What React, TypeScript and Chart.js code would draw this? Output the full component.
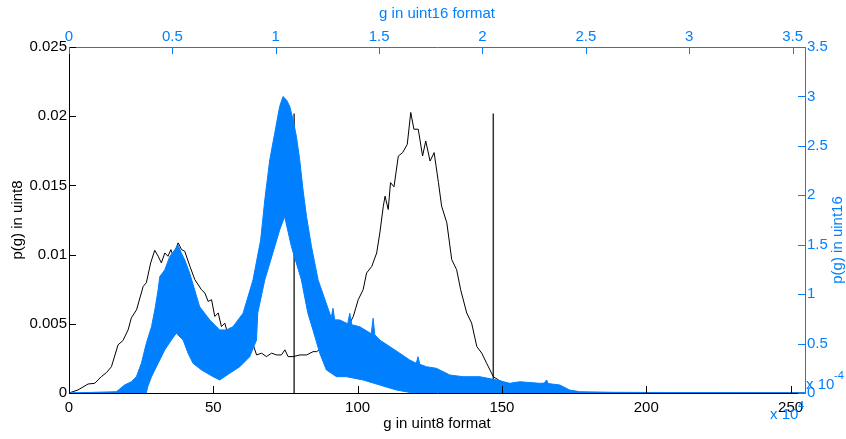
import React, { useEffect, useRef } from "react";
import { Chart, registerables } from "chart.js";

Chart.register(...registerables);

// uint8 histogram (black), bottom/left axes
const uint8G = [0, 3.1, 6.6, 8.9, 11.2, 13.0, 14.7, 17.0, 18.7, 20.5, 21.6, 23.4, 25.7, 26.8, 28.3, 29.7, 30.9, 32.0, 33.2, 34.3, 35.3, 36.1, 37.8, 39.0, 40.1, 41.9, 43.6, 45.9, 47.1, 48.2, 49.4, 50.5, 51.7, 52.8, 54.0, 54.6, 59.2, 63.8, 65.0, 66.7, 68.4, 70.2, 71.9, 73.6, 74.8, 75.9, 77.7, 80.0, 82.3, 84.6, 85.8, 91.1, 96.7, 98.5, 100.2, 101.9, 103.1, 104.9, 106.6, 107.7, 108.9, 109.5, 110.6, 111.4, 112.6, 114.1, 115.6, 117.2, 118.4, 119.5, 121.0, 122.5, 123.6, 125.1, 126.5, 128.0, 129.1, 130.9, 132.6, 134.3, 135.7, 137.8, 139.5, 141.3, 143.0, 144.7, 147.0, 148.8, 150.5, 152.8, 156.3, 163, 173.6, 184, 255];
const uint8P = [0, 0.00022, 0.00065, 0.0007, 0.00118, 0.00148, 0.0019, 0.00348, 0.00379, 0.00457, 0.00543, 0.00601, 0.0077, 0.00797, 0.0094, 0.01031, 0.00988, 0.0094, 0.01012, 0.00988, 0.01036, 0.00988, 0.01085, 0.01036, 0.01024, 0.00915, 0.00819, 0.00746, 0.00722, 0.00662, 0.00674, 0.00553, 0.00578, 0.0048, 0.00505, 0.00457, 0.00384, 0.00348, 0.00275, 0.00288, 0.00263, 0.00288, 0.00275, 0.00275, 0.00312, 0.00263, 0.00263, 0.00275, 0.00275, 0.00299, 0.00299, 0.0038, 0.0048, 0.00553, 0.00674, 0.00746, 0.00867, 0.00915, 0.01012, 0.01157, 0.0135, 0.01422, 0.01326, 0.0152, 0.0149, 0.01712, 0.01737, 0.01797, 0.02027, 0.01906, 0.01906, 0.01712, 0.01821, 0.01676, 0.01737, 0.0152, 0.0135, 0.0123, 0.00964, 0.00891, 0.00746, 0.00578, 0.00505, 0.00335, 0.00288, 0.00215, 0.00118, 0.00094, 0.00075, 0.00036, 0.00022, 0.0001, 0.00005, 0.00001, 0];

// threshold markers (black vertical lines)
const thresholds = [78, 147];
const thresholdTop = 0.0202;

// uint16 histogram (blue), drawn as the band between its upper and lower envelopes (top/right axes, x in 1e4, y in 1e-4)
const uint16UpperT = [0, 0.229, 0.269, 0.302, 0.326, 0.350, 0.374, 0.399, 0.415, 0.431, 0.439, 0.463, 0.487, 0.511, 0.527, 0.544, 0.560, 0.584, 0.608, 0.632, 0.681, 0.729, 0.761, 0.793, 0.842, 0.890, 0.927, 0.947, 0.971, 0.995, 1.019, 1.035, 1.052, 1.068, 1.084, 1.100, 1.116, 1.132, 1.149, 1.173, 1.205, 1.261, 1.268, 1.277, 1.285, 1.310, 1.348, 1.358, 1.368, 1.406, 1.462, 1.471, 1.479, 1.503, 1.552, 1.600, 1.648, 1.680, 1.688, 1.697, 1.729, 1.777, 1.842, 1.906, 1.987, 2.068, 2.132, 2.180, 2.277, 2.299, 2.310, 2.318, 2.374, 2.422, 2.471, 2.630, 3.56];
const uint16UpperP = [0, 0.013, 0.081, 0.114, 0.165, 0.30, 0.503, 0.671, 0.84, 1.042, 1.177, 1.245, 1.379, 1.447, 1.498, 1.414, 1.346, 1.211, 1.042, 0.873, 0.739, 0.638, 0.638, 0.671, 0.807, 1.144, 1.548, 1.953, 2.358, 2.628, 2.898, 2.999, 2.965, 2.898, 2.763, 2.594, 2.358, 2.054, 1.784, 1.48, 1.144, 0.807, 0.76, 0.857, 0.74, 0.739, 0.70, 0.807, 0.69, 0.671, 0.60, 0.756, 0.59, 0.536, 0.469, 0.402, 0.334, 0.30, 0.367, 0.29, 0.266, 0.25, 0.182, 0.165, 0.165, 0.132, 0.098, 0.114, 0.098, 0.10, 0.132, 0.095, 0.081, 0.030, 0.013, 0.007, 0];
const uint16LowerT = [0, 0.374, 0.381, 0.399, 0.431, 0.463, 0.495, 0.520, 0.527, 0.552, 0.576, 0.600, 0.641, 0.697, 0.729, 0.777, 0.826, 0.874, 0.907, 0.913, 0.947, 0.995, 1.019, 1.043, 1.076, 1.124, 1.155, 1.180, 1.213, 1.245, 1.294, 1.342, 1.422, 1.503, 1.584, 1.664, 3.56];
const uint16LowerP = [0, 0, 0.064, 0.165, 0.30, 0.435, 0.536, 0.607, 0.587, 0.536, 0.402, 0.30, 0.233, 0.165, 0.132, 0.199, 0.266, 0.367, 0.536, 0.81, 1.144, 1.48, 1.65, 1.784, 1.48, 1.144, 0.81, 0.638, 0.402, 0.233, 0.165, 0.165, 0.132, 0.081, 0.03, 0, 0];

// axes
const x8Ticks = [0, 50, 100, 150, 200, 250];
const x8Labels = ["0", "50", "100", "150", "200", "250"];
const y8Ticks = [0, 0.005, 0.01, 0.015, 0.02, 0.025];
const y8Labels = ["0", "0.005", "0.01", "0.015", "0.02", "0.025"];
const x16Ticks = [0, 0.5, 1, 1.5, 2, 2.5, 3, 3.5];
const x16Labels = ["0", "0.5", "1", "1.5", "2", "2.5", "3", "3.5"];
const y16Ticks = [0, 0.5, 1, 1.5, 2, 2.5, 3, 3.5];
const y16Labels = ["0", "0.5", "1", "1.5", "2", "2.5", "3", "3.5"];

const BLUE = "#0080FF";
const FONT = '"Liberation Sans", Arial, Helvetica, sans-serif';

const decorPlugin = {
  id: "decor",
  afterDraw(chart: any) {
    const ctx = chart.ctx as CanvasRenderingContext2D;
    const a = chart.chartArea;
    const s = chart.scales;
    const TL = 7;
    ctx.save();
    ctx.lineWidth = 1;
    // inward ticks
    ctx.strokeStyle = "#000";
    ctx.beginPath();
    for (const v of x8Ticks) {
      const px = Math.round(s.x.getPixelForValue(v)) + 0.5;
      ctx.moveTo(px, a.bottom);
      ctx.lineTo(px, a.bottom - TL);
    }
    for (const v of y8Ticks) {
      const py = Math.round(s.y.getPixelForValue(v)) + 0.5;
      ctx.moveTo(a.left, py);
      ctx.lineTo(a.left + TL, py);
    }
    ctx.stroke();
    ctx.strokeStyle = BLUE;
    ctx.beginPath();
    for (const v of x16Ticks) {
      const px = Math.round(s.x2.getPixelForValue(v)) + 0.5;
      ctx.moveTo(px, a.top);
      ctx.lineTo(px, a.top + TL);
    }
    for (const v of y16Ticks) {
      const py = Math.round(s.y2.getPixelForValue(v)) + 0.5;
      ctx.moveTo(a.right, py);
      ctx.lineTo(a.right - TL, py);
    }
    ctx.stroke();

    // axis titles
    ctx.font = `15px ${FONT}`;
    ctx.textAlign = "center";
    ctx.textBaseline = "middle";
    const cx = (a.left + a.right) / 2;
    const cy = (a.top + a.bottom) / 2;
    ctx.fillStyle = "#000";
    ctx.fillText("g in uint8 format", cx, 424);
    ctx.save();
    ctx.translate(18, cy);
    ctx.rotate(-Math.PI / 2);
    ctx.fillText("p(g) in uint8", 0, 0);
    ctx.restore();
    ctx.fillStyle = BLUE;
    ctx.fillText("g in uint16 format", cx, 14);
    ctx.save();
    ctx.translate(838, cy + 20);
    ctx.rotate(-Math.PI / 2);
    ctx.fillText("p(g) in uint16", 0, 0);
    ctx.restore();

    // exponent labels
    ctx.textAlign = "left";
    ctx.fillText("x 10", 806, 385);
    ctx.fillText("x 10", 770, 415);
    ctx.font = `11px ${FONT}`;
    ctx.fillText("-4", 834, 376);
    ctx.fillText("4", 798, 406);
    ctx.restore();
  },
};

export default function App() {
  const ref = useRef<HTMLCanvasElement>(null);
  useEffect(() => {
    const canvas = ref.current;
    if (!canvas) return;
    const tickFont = { family: FONT, size: 15 };
    const fixedTicks = (vals: number[]) => (scale: any) => {
      scale.ticks = vals.map((v) => ({ value: v }));
    };
    const chart = new Chart(canvas, {
      type: "line",
      data: {
        datasets: [
          {
            label: "uint16 upper",
            data: uint16UpperT.map((t, i) => ({ x: t, y: uint16UpperP[i] })),
            xAxisID: "x2",
            yAxisID: "y2",
            borderColor: BLUE,
            backgroundColor: BLUE,
            borderWidth: 1,
            pointRadius: 0,
            fill: "+1",
            tension: 0,
            order: 0,
          },
          {
            label: "uint16 lower",
            data: uint16LowerT.map((t, i) => ({ x: t, y: uint16LowerP[i] })),
            xAxisID: "x2",
            yAxisID: "y2",
            borderColor: BLUE,
            borderWidth: 1,
            pointRadius: 0,
            fill: false,
            tension: 0,
            order: 1,
          },
          {
            label: "uint8",
            data: uint8G.map((g, i) => ({ x: g, y: uint8P[i] })),
            xAxisID: "x",
            yAxisID: "y",
            borderColor: "#000",
            borderWidth: 1,
            pointRadius: 0,
            fill: false,
            tension: 0,
            order: 2,
          },
          ...thresholds.map((g) => ({
            label: "threshold " + g,
            data: [
              { x: g, y: 0 },
              { x: g, y: thresholdTop },
            ],
            xAxisID: "x",
            yAxisID: "y",
            borderColor: "#333",
            borderWidth: 1.5,
            pointRadius: 0,
            fill: false,
            order: 3,
          })),
        ],
      },
      options: {
        responsive: false,
        animation: false,
        events: [],
        layout: { padding: 0 },
        plugins: { legend: { display: false }, tooltip: { enabled: false } },
        scales: {
          x: {
            type: "linear",
            position: "bottom",
            min: 0,
            max: 255,
            afterBuildTicks: fixedTicks(x8Ticks),
            afterFit: (sc: any) => { sc.height = 46; },
            grid: { display: false, drawTicks: false, tickLength: 0 },
            border: { display: true, color: "#000", width: 1 },
            ticks: {
              font: tickFont,
              color: "#000",
              padding: 6,
              maxRotation: 0,
              autoSkip: false,
              callback: (v: any) => x8Labels[x8Ticks.indexOf(Number(v))] ?? "",
            },
          },
          y: {
            type: "linear",
            position: "left",
            min: 0,
            max: 0.025,
            afterBuildTicks: fixedTicks(y8Ticks),
            afterFit: (sc: any) => { sc.width = 69; },
            grid: { display: false, drawTicks: false, tickLength: 0 },
            border: { display: true, color: "#000", width: 1 },
            ticks: {
              font: tickFont,
              color: "#000",
              padding: 2,
              autoSkip: false,
              callback: (v: any) => y8Labels[y8Ticks.indexOf(Number(v))] ?? "",
            },
          },
          x2: {
            type: "linear",
            position: "top",
            min: 0,
            max: 3.56,
            afterBuildTicks: fixedTicks(x16Ticks),
            afterFit: (sc: any) => { sc.height = 47; },
            grid: { display: false, drawTicks: false, tickLength: 0 },
            border: { display: true, color: BLUE, width: 1 },
            ticks: {
              font: tickFont,
              color: BLUE,
              padding: 1,
              maxRotation: 0,
              autoSkip: false,
              callback: (v: any) => x16Labels[x16Ticks.indexOf(Number(v))] ?? "",
            },
          },
          y2: {
            type: "linear",
            position: "right",
            min: 0,
            max: 3.5,
            afterBuildTicks: fixedTicks(y16Ticks),
            afterFit: (sc: any) => { sc.width = 41; },
            grid: { display: false, drawTicks: false, tickLength: 0 },
            border: { display: true, color: BLUE, width: 1 },
            ticks: {
              font: tickFont,
              color: BLUE,
              padding: 2,
              autoSkip: false,
              callback: (v: any) => y16Labels[y16Ticks.indexOf(Number(v))] ?? "",
            },
          },
        },
      } as any,
      plugins: [decorPlugin],
    });
    return () => chart.destroy();
  }, []);

  return (
    <div style={{ position: "fixed", left: 0, top: 0, width: 846, height: 439, background: "#fff" }}>
      <canvas ref={ref} width={846} height={439} style={{ display: "block", width: 846, height: 439 }} />
    </div>
  );
}
